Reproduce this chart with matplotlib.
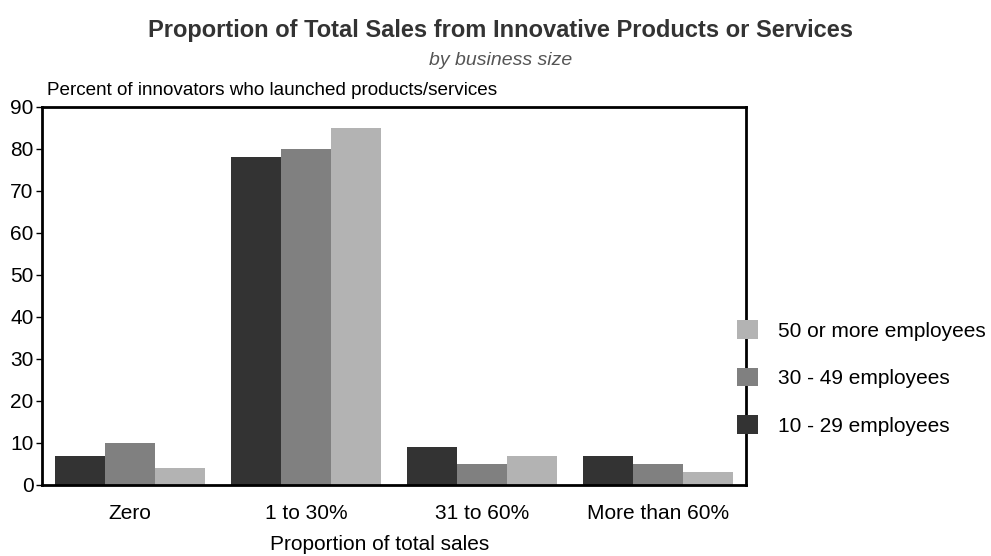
import matplotlib
matplotlib.use("Agg")
import matplotlib.pyplot as plt
import numpy as np

# data
categories = ["Zero", "1 to 30%", "31 to 60%", "More than 60%"]
series_names = ["10 - 29 employees", "30 - 49 employees", "50 or more employees"]
small = [7, 78, 9, 7]
medium = [10, 80, 5, 5]
large = [4, 85, 7, 3]
colors = ["#333333", "#808080", "#b3b3b3"]

plt.rcParams['font.family'] = ['Liberation Sans', 'DejaVu Sans']

fig = plt.figure(figsize=(9.91, 5.56), dpi=100)
ax = fig.add_axes([0.0424, 0.1277, 0.7106, 0.6799])

x = np.arange(len(categories))
w = 0.285
bars = []
for i, (vals, c, name) in enumerate(zip([small, medium, large], colors, series_names)):
    b = ax.bar(x + (i - 1) * w, vals, w, color=c, label=name, linewidth=0)
    bars.append(b)

ax.set_xlim(-0.5, 3.5)
ax.set_ylim(0, 90)
ax.set_yticks(range(0, 91, 10))
ax.set_xticks(x)
ax.set_xticklabels(categories)
ax.tick_params(axis='y', labelsize=15, length=4, width=1, pad=2)
ax.tick_params(axis='x', labelsize=15, length=0, pad=14)
for s in ax.spines.values():
    s.set_linewidth(2)
    s.set_color("black")
ax.set_xlabel("Proportion of total sales", fontsize=15)
ax.xaxis.set_label_coords(0.48, -0.158)
ax.xaxis.label.set_va('center')

fig.text(0.047, 0.838, "Percent of innovators who launched products/services",
         fontsize=13.6, ha='left', va='center')

fig.text(0.505, 0.945, "Proportion of Total Sales from Innovative Products or Services",
         fontsize=17, fontweight='bold', ha='center', va='center', color='#333333',
         family=['Liberation Sans Narrow', 'Liberation Sans', 'DejaVu Sans'])
fig.text(0.505, 0.892, "by business size", fontsize=14, style='italic',
         ha='center', va='center', color='#555555')

handles = bars[::-1]
labels = series_names[::-1]
fig.legend(handles, labels, loc='center left', bbox_to_anchor=(0.7245, 0.32),
           frameon=False, fontsize=15, handlelength=1.0, handleheight=1.0,
           handletextpad=1.0, labelspacing=1.3)

fig.savefig("out.png", dpi=100)
